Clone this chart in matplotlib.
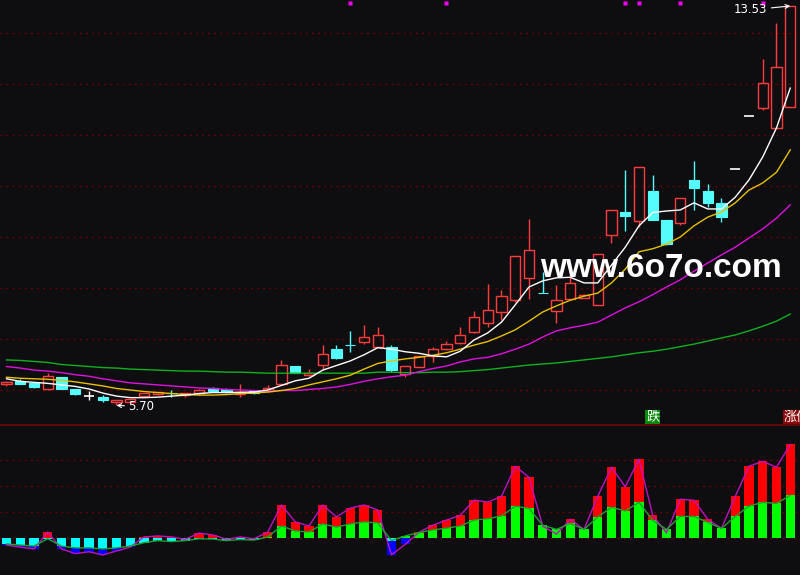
import matplotlib
matplotlib.use("Agg")
import matplotlib.pyplot as plt
from matplotlib.patches import Rectangle
from matplotlib.transforms import blended_transform_factory
from matplotlib.lines import Line2D

# ---------------- data ----------------
opens  = [6.12, 6.18, 6.13, 6.02, 6.25, 6.02, 5.88, 5.86, 5.76, 5.77,
          5.88, 5.92, 5.95, 5.90, 5.94, 6.03, 6.02, 5.92, 5.98, 5.98,
          6.11, 6.47, 6.29, 6.50, 6.80, 6.89, 6.95, 6.85, 6.84, 6.31,
          6.45, 6.67, 6.80, 6.93, 7.14, 7.31, 7.53, 7.76, 8.19, 7.91,
          7.54, 7.78, 7.81, 7.66, 9.03, 9.50, 9.32, 9.90, 9.33, 9.27,
          10.12, 9.90, 9.67, 10.34, 11.37, 11.52, 11.13, 11.55]
highs  = [6.17, 6.21, 6.13, 6.33, 6.26, 6.02, 5.98, 5.90, 5.81, 5.83,
          5.95, 5.97, 6.00, 5.95, 6.01, 6.06, 6.04, 6.12, 5.99, 6.10,
          6.59, 6.47, 6.41, 6.88, 6.88, 7.16, 7.27, 7.23, 6.88, 6.48,
          6.67, 6.84, 6.96, 7.24, 7.55, 8.08, 7.96, 8.63, 9.35, 8.32,
          8.06, 8.35, 7.88, 8.67, 9.53, 10.31, 10.37, 10.22, 9.33, 9.76,
          10.49, 10.04, 9.76, 10.34, 11.37, 12.50, 13.19, 13.53]
lows   = [6.08, 6.12, 6.04, 6.00, 6.02, 5.90, 5.80, 5.76, 5.70, 5.76,
          5.87, 5.91, 5.87, 5.87, 5.90, 5.98, 5.95, 5.87, 5.93, 5.97,
          6.11, 6.34, 6.27, 6.39, 6.61, 6.75, 6.90, 6.85, 6.36, 6.26,
          6.45, 6.54, 6.78, 6.91, 7.11, 7.24, 7.37, 7.73, 7.78, 7.90,
          7.32, 7.76, 7.80, 7.66, 8.89, 9.12, 9.20, 9.33, 8.85, 9.24,
          9.52, 9.59, 9.30, 10.34, 11.37, 11.49, 11.13, 11.55]
closes = [6.16, 6.12, 6.05, 6.27, 6.02, 5.93, 5.88, 5.80, 5.80, 5.82,
          5.94, 5.96, 5.94, 5.94, 6.00, 5.99, 5.96, 5.97, 5.94, 6.04,
          6.49, 6.34, 6.33, 6.71, 6.63, 6.88, 7.03, 7.08, 6.39, 6.48,
          6.67, 6.80, 6.91, 7.07, 7.44, 7.57, 7.84, 8.63, 8.74, 7.90,
          7.76, 8.09, 7.86, 8.67, 9.53, 9.41, 10.37, 9.33, 8.86, 9.76,
          9.97, 9.67, 9.40, 10.34, 11.37, 12.01, 12.33, 13.53]

ma5  = [6.22, 6.17, 6.15, 6.13, 6.10, 6.07, 6.02, 5.94, 5.88, 5.85,
        5.85, 5.86, 5.88, 5.90, 5.93, 5.95, 5.95, 5.955, 5.96, 6.00,
        6.09, 6.18, 6.23, 6.39, 6.48, 6.57, 6.69, 6.83, 6.80, 6.75,
        6.72, 6.67, 6.65, 6.76, 6.98, 7.12, 7.33, 7.67, 8.02, 8.14,
        8.20, 8.21, 8.10, 8.10, 8.45, 8.80, 9.22, 9.48, 9.51, 9.53,
        9.67, 9.55, 9.55, 9.78, 10.12, 10.57, 11.14, 11.92]
ma10 = [6.25, 6.23, 6.22, 6.21, 6.19, 6.16, 6.12, 6.08, 6.03, 6.00,
        5.97, 5.95, 5.93, 5.91, 5.90, 5.90, 5.91, 5.93, 5.94, 5.96,
        5.99, 6.03, 6.10, 6.16, 6.22, 6.29, 6.41, 6.52, 6.57, 6.61,
        6.64, 6.68, 6.73, 6.80, 6.88, 6.95, 7.06, 7.18, 7.35, 7.53,
        7.65, 7.76, 7.84, 7.90, 8.10, 8.37, 8.71, 8.77, 8.86, 9.00,
        9.22, 9.39, 9.49, 9.67, 9.92, 10.06, 10.27, 10.71]
ma20 = [6.46, 6.43, 6.39, 6.37, 6.34, 6.30, 6.27, 6.22, 6.18, 6.14,
        6.12, 6.10, 6.08, 6.06, 6.04, 6.03, 6.01, 6.00, 5.99, 5.98,
        5.99, 5.99, 6.01, 6.03, 6.06, 6.11, 6.17, 6.22, 6.26, 6.29,
        6.36, 6.42, 6.47, 6.55, 6.61, 6.64, 6.71, 6.80, 6.90, 7.04,
        7.16, 7.22, 7.27, 7.33, 7.47, 7.61, 7.73, 7.87, 8.02, 8.16,
        8.33, 8.49, 8.65, 8.80, 8.98, 9.16, 9.37, 9.63]
ma60 = [6.59, 6.58, 6.56, 6.54, 6.50, 6.48, 6.46, 6.44, 6.43, 6.41,
        6.40, 6.39, 6.38, 6.37, 6.37, 6.36, 6.35, 6.35, 6.34, 6.33,
        6.33, 6.33, 6.33, 6.33, 6.33, 6.33, 6.33, 6.35, 6.35, 6.34,
        6.34, 6.35, 6.35, 6.36, 6.38, 6.40, 6.43, 6.46, 6.49, 6.51,
        6.53, 6.56, 6.59, 6.62, 6.65, 6.69, 6.73, 6.76, 6.80, 6.85,
        6.90, 6.96, 7.02, 7.08, 7.16, 7.25, 7.35, 7.49]

osc_main = [-0.27, -0.35, -0.42, 0.23, -0.42, -0.60, -0.53, -0.65, -0.50, -0.35,
            0.04, 0.08, 0.04, -0.05, 0.19, 0.12, -0.05, 0.04, -0.03, 0.23,
            1.27, 0.62, 0.46, 1.27, 0.81, 1.15, 1.27, 1.08, -0.65, -0.24,
            0.22, 0.49, 0.69, 0.87, 1.46, 1.38, 1.60, 2.76, 2.33, 0.45,
            0.15, 0.72, 0.33, 1.60, 2.72, 1.97, 3.03, 0.87, 0.20, 1.49,
            1.45, 0.72, 0.37, 1.60, 2.76, 2.95, 2.72, 3.60]
osc_base = [-0.23, -0.27, -0.31, -0.03, -0.31, -0.38, -0.38, -0.42, -0.38, -0.31,
            -0.18, -0.10, -0.14, -0.10, -0.03, -0.04, -0.10, -0.06, -0.08, 0.04,
            0.46, 0.27, 0.23, 0.54, 0.42, 0.54, 0.62, 0.58, -0.10, 0.08,
            0.21, 0.31, 0.38, 0.46, 0.69, 0.74, 0.85, 1.22, 1.14, 0.49,
            0.33, 0.56, 0.33, 0.81, 1.18, 1.04, 1.37, 0.68, 0.33, 0.83,
            0.83, 0.60, 0.37, 0.83, 1.23, 1.37, 1.33, 1.64]

signal_marks = [25, 32, 45, 46, 49, 55]
price_grid = [6, 7, 8, 9, 10, 11, 12, 13]
osc_grid = [0, 1, 2, 3]
low_index, low_text = 8, "5.70"
high_index, high_text = 57, "13.53"
tag_down_index, tag_down = 47, "跌"
tag_up_index, tag_up = 57, "涨停"
watermark = "www.6o7o.com"

# ---------------- style ----------------
BG = "#0e0e11"
RED = "#ff3c3c"
CYAN = "#54fcfc"
GRID = "#7a0000"
W = 0.74
BW = 0.69

fig = plt.figure(figsize=(8, 5.75), dpi=100, facecolor=BG)
H_MAIN = 425 / 575
ax = fig.add_axes([0, 1 - H_MAIN, 1, H_MAIN], facecolor=BG)
ax2 = fig.add_axes([0, 0, 1, 1 - H_MAIN], facecolor=BG)

n = len(closes)
xs = list(range(n))
xl = (-6.5 / 13.75, (800 - 6.5) / 13.75)
for a in (ax, ax2):
    a.set_xlim(*xl)
    a.set_axis_off()

ax.set_ylim(6 - 35 / 51, 6 + 390 / 51)
ax2.set_ylim(-37 / 26, 113 / 26)

for g in price_grid:
    ax.axhline(g, color=GRID, lw=1.0, ls=(0, (1.2, 3.2)), zorder=0)
for g in osc_grid:
    ax2.axhline(g, color=GRID, lw=1.0, ls=(0, (1.2, 3.2)), zorder=0)

# candles
for i, (o, h, l, c) in enumerate(zip(opens, highs, lows, closes)):
    if c > o:
        ax.add_patch(Rectangle((i - W / 2, o), W, c - o, fill=False,
                               edgecolor=RED, lw=1.0, zorder=2))
        if l < o:
            ax.vlines(i, l, o, color=RED, lw=1.0, zorder=2)
        if h > c:
            ax.vlines(i, c, h, color=RED, lw=1.0, zorder=2)
    elif c < o:
        ax.add_patch(Rectangle((i - W / 2, c), W, o - c, facecolor=CYAN,
                               edgecolor=CYAN, lw=0.8, zorder=2))
        if h > l:
            ax.vlines(i, l, h, color=CYAN, lw=1.0, zorder=2)
    else:
        ax.hlines(o, i - W / 2, i + W / 2, color="white", lw=1.2, zorder=2)
        if h > l:
            ax.vlines(i, l, h, color="white", lw=1.0, zorder=2)

# moving averages
ax.plot(xs, ma60, color="#10b020", lw=1.0, zorder=3)
ax.plot(xs, ma20, color="#e010e0", lw=1.0, zorder=3)
ax.plot(xs, ma10, color="#e8c000", lw=1.0, zorder=3)
ax.plot(xs, ma5, color="#ffffff", lw=1.0, zorder=3)

# signal marks on top
tr = blended_transform_factory(ax.transData, ax.transAxes)
ax.plot(signal_marks, [1 - 2.5 / 425] * len(signal_marks), "s", ms=2.3,
        color="#ff00ff", mec="none", transform=tr, clip_on=False, zorder=4)

# labels with arrows
ax.annotate(high_text, xy=(high_index, highs[high_index]), xytext=(-23, -4),
            textcoords="offset pixels", ha="right", va="center",
            color="white", fontsize=8.5,
            arrowprops=dict(arrowstyle="->", color="white", lw=0.8,
                            shrinkA=1, shrinkB=0, mutation_scale=7),
            zorder=5)
ax.annotate(low_text, xy=(low_index, lows[low_index]), xytext=(12, -1.5),
            textcoords="offset pixels", ha="left", va="center",
            color="white", fontsize=8.5,
            arrowprops=dict(arrowstyle="->", color="white", lw=0.8,
                            shrinkA=1, shrinkB=0, mutation_scale=7),
            zorder=5)

# tags near the bottom of the main panel
ax.text(tag_down_index, 6 - 27 / 51, tag_down, ha="center", va="center",
        color="white", fontsize=9.5, family=["Noto Sans CJK SC", "DejaVu Sans"],
        bbox=dict(boxstyle="square,pad=0.05", fc="#0a8a0a", ec="none"), zorder=5)
ax.text(tag_up_index - 0.5, 6 - 27 / 51, tag_up, ha="left", va="center",
        color="white", fontsize=9.5, family=["Noto Sans CJK SC", "DejaVu Sans"],
        bbox=dict(boxstyle="square,pad=0.05", fc="#8a0808", ec="none"),
        zorder=5, clip_on=True)

# oscillator
for i, (p, g) in enumerate(zip(osc_main, osc_base)):
    ax2.bar(i, p, width=BW, color="#ff0000" if p > 0 else "#0000ff", zorder=2)
    ax2.bar(i, g, width=BW, color="#00ff00" if g > 0 else "#00ffff", zorder=2)
ax2.plot(xs, osc_main, color="#c010c0", lw=1.0, zorder=3)
ax2.plot(xs, osc_base, color="#20a030", lw=1.0, zorder=3)

# separator
fig.add_artist(Line2D([0, 1], [1 - H_MAIN, 1 - H_MAIN], transform=fig.transFigure,
                      color="#5e0a0a", lw=1.5))

# watermark
fig.text(540 / 800, 1 - 277 / 575, watermark, ha="left", va="baseline",
         color="white", fontsize=24, fontweight="bold", family="Liberation Sans",
         zorder=10)

fig.savefig("out.png", dpi=100, facecolor=BG)
